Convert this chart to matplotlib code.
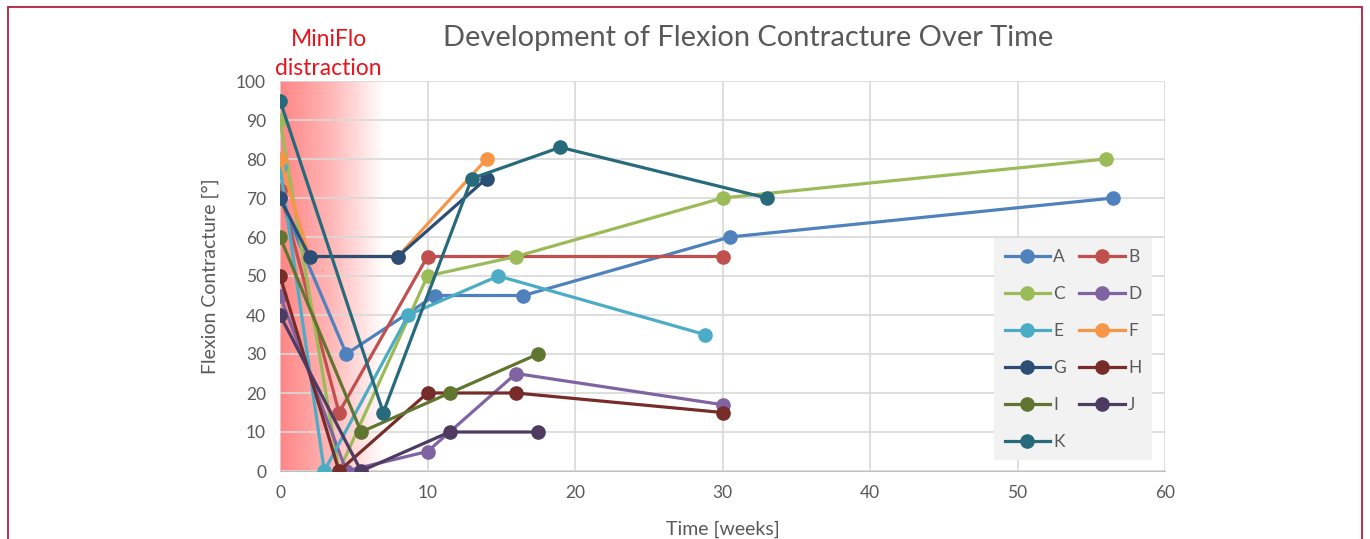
import matplotlib
matplotlib.use("Agg")
import matplotlib.pyplot as plt
import numpy as np
from matplotlib.patches import Rectangle
from matplotlib.colors import LinearSegmentedColormap

plt.rcParams["font.family"] = ["Lato", "DejaVu Sans"]

# 数据：时间（周）与屈曲挛缩角度（°）
names = ["A", "B", "C", "D", "E", "F", "G", "H", "I", "J", "K"]
colors = ["#4F81BD", "#C0504D", "#9BBB59", "#8064A2", "#4BACC6", "#F79646",
          "#2C4D75", "#772C2A", "#5F7530", "#4D3B62", "#276A7C"]
weeks = [
    [0, 4.5, 10.5, 16.5, 30.5, 56.5],
    [0, 4, 10, 30],
    [0, 4, 10, 16, 30, 56],
    [0, 4.5, 10, 16, 30],
    [0, 3, 8.7, 14.8, 28.8],
    [0, 2, 8, 14],
    [0, 2, 8, 14],
    [0, 4, 10, 16, 30],
    [0, 5.5, 11.5, 17.5],
    [0, 5.5, 11.5, 17.5],
    [0, 7, 13, 19, 33],
]
contracture = [
    [70, 30, 45, 45, 60, 70],
    [72, 15, 55, 55],
    [90, 0, 50, 55, 70, 80],
    [45, 0, 5, 25, 17],
    [78, 0, 40, 50, 35],
    [80, 55, 55, 80],
    [70, 55, 55, 75],
    [50, 0, 20, 20, 15],
    [60, 10, 20, 30],
    [40, 0, 10, 10],
    [95, 15, 75, 83, 70],
]
distraction_end = 7

grey = "#595959"
fig = plt.figure(figsize=(13.7, 5.39), dpi=100)
ax = fig.add_axes([280 / 1370, 68 / 539, 885 / 1370, 390 / 539])

# 牵引期红色渐变
cmap = LinearSegmentedColormap.from_list("fade", ["#FF8585", "#FFB8B8", "#FFFFFF"])
grad = np.linspace(0, 1, 256).reshape(1, -1)
ax.imshow(grad, cmap=cmap, extent=[0, distraction_end, 0, 100], aspect="auto", zorder=0.3)

for n, c, x, y in zip(names, colors, weeks, contracture):
    ax.plot(x, y, color=c, lw=2.3, marker="o", ms=9.5, label=n, zorder=3)

ax.set_xlim(0, 60)
ax.set_ylim(0, 100)
ax.set_xticks(np.arange(0, 61, 10))
ax.set_yticks(np.arange(0, 101, 10))
ax.set_axisbelow(True)
ax.grid(True, color="#D9D9D9", lw=1.2)
for s in ["top", "right", "left"]:
    ax.spines[s].set_visible(False)
ax.spines["bottom"].set_color("#BFBFBF")
ax.tick_params(length=0, labelsize=12.5, colors=grey, pad=10)
ax.set_xlabel("Time [weeks]", fontsize=14, color=grey, labelpad=14)
ax.set_ylabel("Flexion Contracture [°]", fontsize=14, color=grey, labelpad=12)

ax.text(0.529, 1.11, "Development of Flexion Contracture Over Time", transform=ax.transAxes,
        ha="center", va="center", fontsize=20.9, color=grey)
ax.text(3.3, 100.5, "MiniFlo\ndistraction", ha="center", va="bottom", fontsize=16.5,
        color="#E8141C", linespacing=1.45, clip_on=False)

# 图例按行排列
h, l = ax.get_legend_handles_labels()
order = [0, 2, 4, 6, 8, 10, 1, 3, 5, 7, 9]
leg = ax.legend([h[i] for i in order], [l[i] for i in order], ncol=2,
                loc="lower left", bbox_to_anchor=(0.807, 0.028, 0.178, 0.577), mode="expand",
                borderaxespad=0, fontsize=12.5, labelspacing=1.21, handlelength=2.6,
                handletextpad=0.2, columnspacing=0.8, frameon=True, fancybox=False,
                borderpad=0.6)
leg.get_frame().set_facecolor("#F2F2F2")
leg.get_frame().set_edgecolor("none")
leg.get_frame().set_alpha(1)
for t in leg.get_texts():
    t.set_color(grey)

fig.patches.append(Rectangle((8 / 1370, -0.05), 1354 / 1370, 1 - 7 / 539 + 0.05,
                             transform=fig.transFigure, fill=False, ec="#B81E3C", lw=1.3))

plt.savefig("out.png", dpi=100)
plt.close()
